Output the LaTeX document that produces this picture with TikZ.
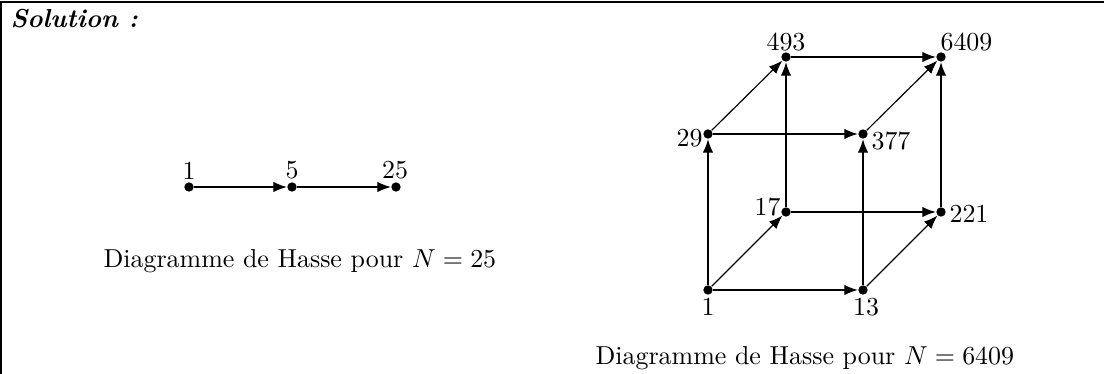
\documentclass[tikz,border=0pt]{standalone}
\usetikzlibrary{arrows.meta}
\begin{document}
\begin{tikzpicture}[x=0.3854pt,y=-0.3854pt,
  pt/.style={circle,fill=black,inner sep=0pt,minimum size=3.6pt},
  lab/.style={font=\normalsize,inner sep=0pt},
  captxt/.style={font=\normalsize,inner sep=0pt},
  arr/.style={-{Latex[length=5.2pt,width=4pt]},line width=0.45pt}]
\useasboundingbox (0,0) rectangle (1104,374);
\draw[line width=0.7pt] (1,374) -- (1,2) -- (1104,2);
\node[anchor=base west,inner sep=0pt] (sol) at (10,28) {\textbf{\textit{Solution :}}};
% left diagram
\node[pt] (a1) at (189,187) {};
\node[pt] (a5) at (292,187) {};
\node[pt] (a25) at (396,187) {};
\node[lab,anchor=south] (la1) at (189,180) {1};
\node[lab,anchor=south] (la5) at (292,180) {5};
\node[lab,anchor=south] (la25) at (395,180) {25};
\draw[arr] (a1) -- (a5);
\draw[arr] (a5) -- (a25);
\node[captxt,anchor=base west] (capa) at (103,268) {Diagramme de Hasse pour $N=25$};
% cube
\node[pt] (b1) at (708,290) {};
\node[pt] (b13) at (863,290) {};
\node[pt] (b17) at (786,212) {};
\node[pt] (b221) at (941,212) {};
\node[pt] (b29) at (708,134) {};
\node[pt] (b377) at (863,134) {};
\node[pt] (b493) at (786,57) {};
\node[pt] (b6409) at (941,57) {};
\node[lab,anchor=north] (lb1) at (708,298) {1};
\node[lab,anchor=north] (lb13) at (866,298) {13};
\node[lab,anchor=east] (lb17) at (781,207) {17};
\node[lab,anchor=west] (lb221) at (949,214) {221};
\node[lab,anchor=east] (lb29) at (703,138) {29};
\node[lab,anchor=west] (lb377) at (871,141) {377};
\node[lab,anchor=south] (lb493) at (786,52) {493};
\node[lab,anchor=south west] (lb6409) at (940,52) {6409};
\draw[arr] (b1) -- (b13);
\draw[arr] (b1) -- (b17);
\draw[arr] (b1) -- (b29);
\draw[arr] (b13) -- (b221);
\draw[arr] (b13) -- (b377);
\draw[arr] (b17) -- (b221);
\draw[arr] (b17) -- (b493);
\draw[arr] (b29) -- (b377);
\draw[arr] (b29) -- (b493);
\draw[arr] (b221) -- (b6409);
\draw[arr] (b377) -- (b6409);
\draw[arr] (b493) -- (b6409);
\node[captxt,anchor=base west] (capb) at (595,365) {Diagramme de Hasse pour $N=6409$};
\end{tikzpicture}
\end{document}
